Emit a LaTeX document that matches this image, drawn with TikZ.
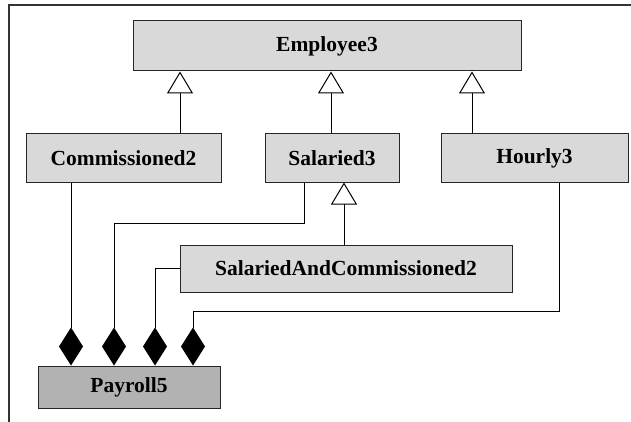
\documentclass[tikz,border=0pt]{standalone}
\usepackage{fontspec}
\setmainfont{Liberation Serif}
\usetikzlibrary{arrows.meta,calc}
\definecolor{ClassClr}{rgb}{0.85,0.85,0.85}
\definecolor{PayClr}{rgb}{0.70,0.70,0.70}

\tikzset{
  cls/.style={draw=black!85,line width=1pt,fill=ClassClr,inner sep=0pt,
    font=\fontsize{21.5}{24}\selectfont\bfseries},
  gen/.style={line width=1pt,-{Triangle[width=26pt,length=22pt,fill=white]}},
  agg/.style={line width=1pt,-{Diamond[width=24pt,length=38pt]}}
}

\begin{document}
\begin{tikzpicture}[x=1pt,y=-1pt]
\useasboundingbox (0,0) rectangle (631,422);
\draw[line width=1.6pt,black!80] (9,422) -- (9,5) -- (631,5);

\node[cls,minimum width=388pt,minimum height=50pt] (emp) at (327,46) {Employee3};
\node[cls,minimum width=195pt,minimum height=48pt] (comm) at (123.5,158) {Commissioned2};
\node[cls,minimum width=134pt,minimum height=48pt] (sal) at (332,158) {Salaried3};
\node[cls,minimum width=187pt,minimum height=48pt] (hour) at (534.5,158) {Hourly3};
\node[cls,minimum width=332pt,minimum height=47pt] (sac) at (346,268.5) {SalariedAndCommissioned2};
\node[cls,fill=PayClr,minimum width=182pt,minimum height=42pt] (pay) at (129,387) {Payroll5};

% inheritance
\draw[gen] (comm.north -| 180,0) -- (180,0 |- emp.south);
\draw[gen] (sal.north -| 331,0) -- (331,0 |- emp.south);
\draw[gen] (hour.north -| 472,0) -- (472,0 |- emp.south);
\draw[gen] (sac.north -| 344,0) -- (344,0 |- sal.south);

% composition into Payroll5
\draw[agg] (comm.south -| 71,0) -- (71,0 |- pay.north);
\draw[agg] (sal.south -| 304,0) -- (304,223) -| (114,0 |- pay.north);
\draw[agg] (sac.west) -| (155,0 |- pay.north);
\draw[agg] (hour.south -| 559,0) -- (559,311) -| (193,0 |- pay.north);

\end{tikzpicture}
\end{document}
